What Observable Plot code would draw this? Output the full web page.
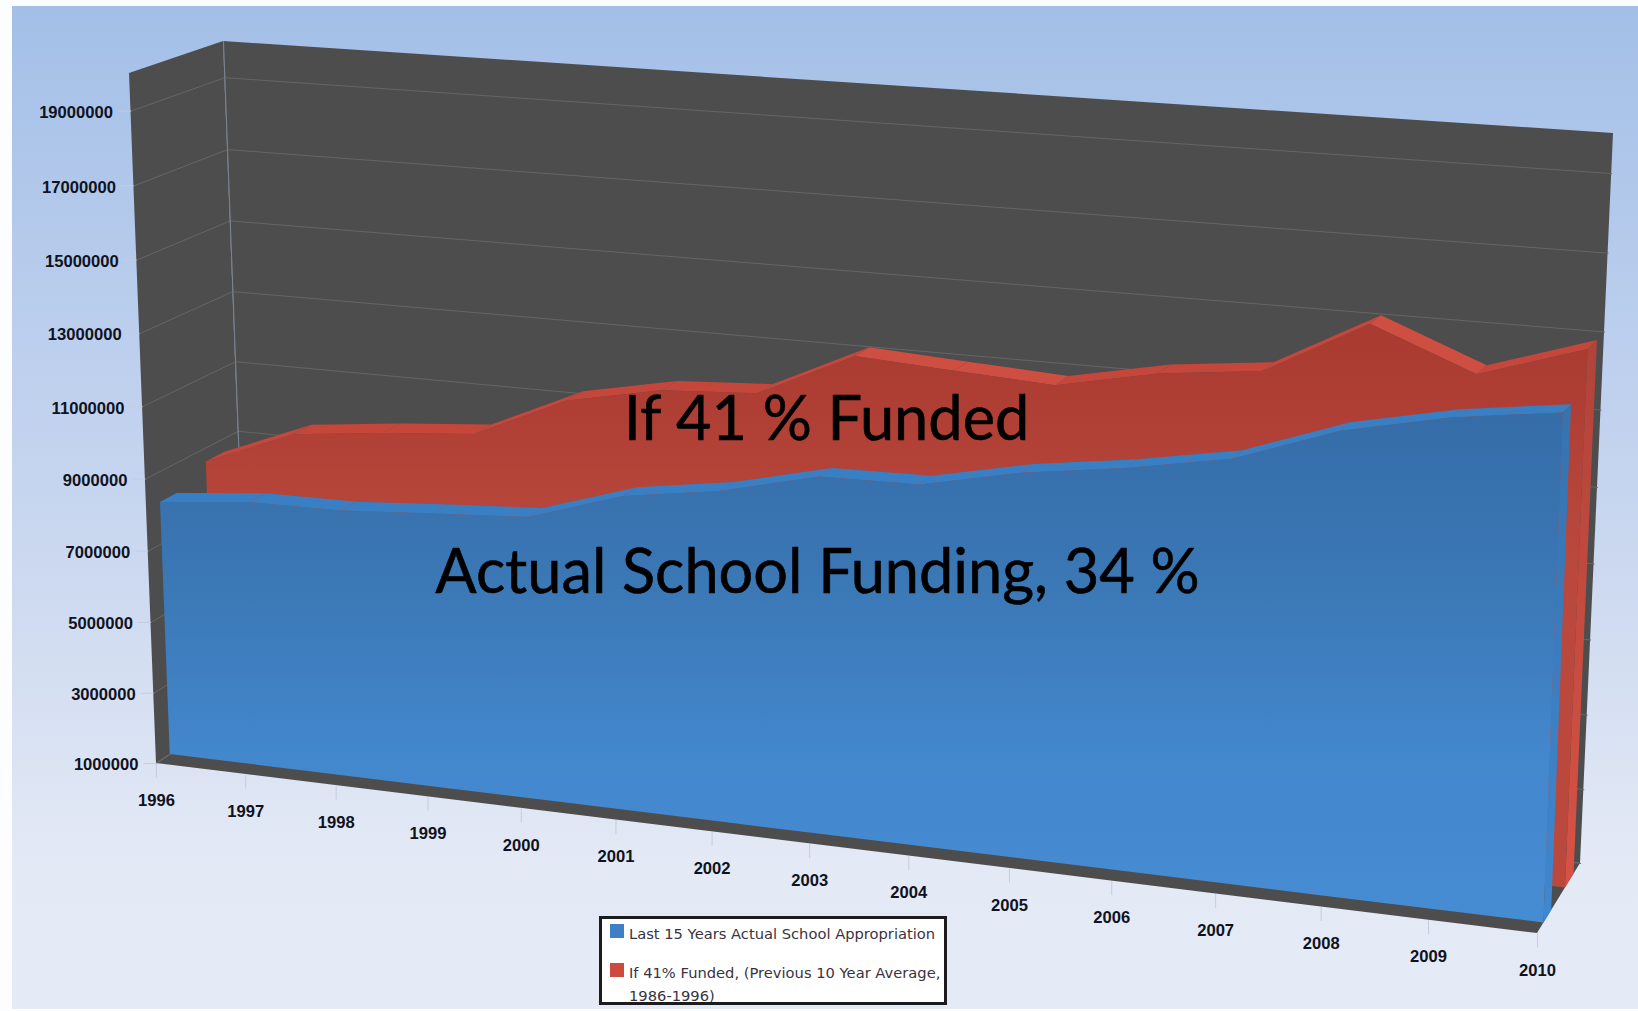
<!DOCTYPE html>
<html>
<head>
<meta charset="utf-8">
<script src="https://cdn.jsdelivr.net/npm/d3@7"></script>
<script src="https://cdn.jsdelivr.net/npm/@observablehq/plot@0.6"></script>
<style>
  html, body { margin: 0; padding: 0; background: #fcfdff; }
  #frame { position: relative; width: 1638px; height: 1011px; overflow: hidden; }
  #frame svg { position: absolute; left: 0; top: 0; background: transparent; }
  #sky { position: absolute; left: 12px; top: 6px; right: 0; bottom: 2px;
         background: linear-gradient(#a3bfe7 0%, #b6cbec 25%, #cbd8f0 55%, #e3e9f5 85%, #e4eaf6 100%); }
  #legend { position: absolute; left: 599px; top: 916px; width: 342px; height: 83px;
            border: 3px solid #1c1c1c; background: #fff; overflow: hidden;
            font: 14.7px "DejaVu Sans", sans-serif; color: #3a3340; }
  #legend .row { position: absolute; left: 8px; white-space: nowrap; }
  #legend .sw { position: absolute; left: 0; top: 2px; width: 14px; height: 14px; }
  #legend .tx { position: absolute; left: 19px; top: 0; line-height: 23px; }
</style>
</head>
<body>
<div id="frame">
  <div id="sky"></div>
  <div id="chart"></div>
  <div id="legend">
    <div class="row" style="top:3px"><span class="sw" style="background:#3f80c4"></span><span class="tx">Last 15 Years Actual School Appropriation</span></div>
    <div class="row" style="top:42px"><span class="sw" style="background:#cc4a40"></span><span class="tx">If 41% Funded, (Previous 10 Year Average,<br>1986-1996)</span></div>
  </div>
</div>
<script>
const years = [1996, 1997, 1998, 1999, 2000, 2001, 2002, 2003, 2004, 2005, 2006, 2007, 2008, 2009, 2010];
const actualFunding = [8150000, 8400000, 8420000, 8600000, 8760000, 9580000, 9970000, 10600000, 10640000, 11200000, 11570000, 12050000, 13000000, 13570000, 13930000];
const fundedAt41 = [8600000, 9620000, 9900000, 10120000, 11280000, 11800000, 11950000, 13180000, 13020000, 12870000, 13410000, 13700000, 15140000, 14080000, 14950000];
const valueTicks = [1000000, 3000000, 5000000, 7000000, 9000000, 11000000, 13000000, 15000000, 17000000, 19000000];
const valueFloor = 1000000;
const valueCeiling = 20000000;

// The box the chart stands in: corners of its front and back planes, on screen.
const frontPlane = [[156, 763], [1537, 933], [1565, 168], [129, 73]];
const backPlane = [[248, 703], [1580, 863], [1613, 133], [223, 41]];

// Depth slabs of the two series, 0 at the front of the box and 1 at its back wall.
const blueDepth = [0.15, 0.33];
const redDepth = [0.65, 0.85];

function homography([p0, p1, p2, p3]) {
  const dx1 = p1[0] - p2[0], dx2 = p3[0] - p2[0], sx = p0[0] - p1[0] + p2[0] - p3[0];
  const dy1 = p1[1] - p2[1], dy2 = p3[1] - p2[1], sy = p0[1] - p1[1] + p2[1] - p3[1];
  const den = dx1 * dy2 - dx2 * dy1;
  const g = (sx * dy2 - dx2 * sy) / den, h = (dx1 * sy - sx * dy1) / den;
  const a = p1[0] - p0[0] + g * p1[0], b = p3[0] - p0[0] + h * p3[0];
  const d = p1[1] - p0[1] + g * p1[1], e = p3[1] - p0[1] + h * p3[1];
  return (u, v) => {
    const w = g * u + h * v + 1;
    return [(a * u + b * v + p0[0]) / w, (d * u + e * v + p0[1]) / w];
  };
}

// Maps (year, value, depth) to the page through the box's perspective.
function project(year, value, depth) {
  const corners = frontPlane.map((p, i) => [
    p[0] + (backPlane[i][0] - p[0]) * depth,
    p[1] + (backPlane[i][1] - p[1]) * depth
  ]);
  const u = (year - years[0]) / (years[years.length - 1] - years[0]);
  const v = (value - valueFloor) / (valueCeiling - valueFloor);
  return homography(corners)(u, v);
}
const px = (year, value, depth) => project(year, value, depth)[0];
const py = (year, value, depth) => project(year, value, depth)[1];

const first = years[0], last = years[years.length - 1];
const depthSteps = [0, 1];

function gradients() {
  const svg = d3.create("svg:defs");
  const grad = (id, y1, y2, stops) => {
    const g = svg.append("linearGradient").attr("id", id)
      .attr("gradientUnits", "userSpaceOnUse")
      .attr("x1", 0).attr("x2", 0).attr("y1", y1).attr("y2", y2);
    stops.forEach(([o, c]) => g.append("stop").attr("offset", o).attr("stop-color", c));
  };
  grad("blueFront", 420, 900, [[0, "#356da8"], [0.35, "#3b78b6"], [0.7, "#4387cd"], [1, "#468cd3"]]);
  grad("redFront", 340, 560, [[0, "#aa3b31"], [1, "#ba483d"]]);
  grad("redSide", 340, 890, [[0, "#b0433a"], [1, "#d85244"]]);
  grad("blueSide", 400, 920, [[0, "#3672ae"], [1, "#4087cf"]]);
  return svg.node();
}

// One flat face per series: its top panels, its right-hand side and its front.
function slab(values, depths, frontFill, panelA, panelB, sideFill) {
  const [d0, d1] = depths;
  const rows = years.map((year, i) => ({year, value: values[i]}));
  const panels = d3.pairs(rows).flatMap(([a, b], i) => [
    {year: a.year, value: a.value, seg: i, rising: b.value >= a.value},
    {year: b.year, value: b.value, seg: i, rising: b.value >= a.value}
  ]);
  const end = rows[rows.length - 1];
  return [
    Plot.area(panels.filter((d) => d.rising), {
      x1: (d) => px(d.year, d.value, d0), y1: (d) => py(d.year, d.value, d0),
      x2: (d) => px(d.year, d.value, d1), y2: (d) => py(d.year, d.value, d1),
      z: "seg", fill: panelA
    }),
    Plot.area(panels.filter((d) => !d.rising), {
      x1: (d) => px(d.year, d.value, d0), y1: (d) => py(d.year, d.value, d0),
      x2: (d) => px(d.year, d.value, d1), y2: (d) => py(d.year, d.value, d1),
      z: "seg", fill: panelB
    }),
    Plot.area(depths, {
      x1: (d) => px(end.year, end.value, d), y1: (d) => py(end.year, end.value, d),
      x2: (d) => px(end.year, valueFloor, d), y2: (d) => py(end.year, valueFloor, d),
      fill: sideFill
    }),
    Plot.area(rows, {
      x1: (d) => px(d.year, d.value, d0), y1: (d) => py(d.year, d.value, d0),
      x2: (d) => px(d.year, valueFloor, d0), y2: (d) => py(d.year, valueFloor, d0),
      fill: frontFill
    })
  ];
}

const leftGrid = valueTicks.flatMap((value) => depthSteps.map((depth) => ({value, depth})));
const backGrid = valueTicks.flatMap((value) => [first, last].map((year) => ({value, year})));

const figure = Plot.plot({
  width: 1638,
  height: 1011,
  margin: 0,
  style: {background: "transparent"},
  x: {domain: [0, 1638], range: [0, 1638], axis: null},
  y: {domain: [0, 1011], range: [0, 1011], axis: null},
  marks: [
    gradients,
    // Back wall
    Plot.area([first, last], {
      x1: (y) => px(y, valueCeiling, 1), y1: (y) => py(y, valueCeiling, 1),
      x2: (y) => px(y, valueFloor, 1), y2: (y) => py(y, valueFloor, 1),
      fill: "#4d4d4d"
    }),
    // Left wall
    Plot.area(depthSteps, {
      x1: (d) => px(first, valueCeiling, d), y1: (d) => py(first, valueCeiling, d),
      x2: (d) => px(first, valueFloor, d), y2: (d) => py(first, valueFloor, d),
      fill: "#4d4d4d"
    }),
    // Floor
    Plot.area([first, last], {
      x1: (y) => px(y, valueFloor, 0), y1: (y) => py(y, valueFloor, 0),
      x2: (y) => px(y, valueFloor, 1), y2: (y) => py(y, valueFloor, 1),
      fill: "#4d4d4d"
    }),
    // Gridlines on both walls, and the corner where they meet
    Plot.line(leftGrid, {
      x: (d) => px(first, d.value, d.depth), y: (d) => py(first, d.value, d.depth),
      z: "value", stroke: "#666666", strokeWidth: 1
    }),
    Plot.line(backGrid, {
      x: (d) => px(d.year, d.value, 1), y: (d) => py(d.year, d.value, 1),
      z: "value", stroke: "#666666", strokeWidth: 1
    }),
    Plot.line([valueCeiling, valueFloor], {
      x: (v) => px(first, v, 1), y: (v) => py(first, v, 1),
      stroke: "#7d8794", strokeWidth: 1
    }),
    ...slab(fundedAt41, redDepth, "url(#redFront)", "#c5473c", "#cf4e42", "url(#redSide)"),
    ...slab(actualFunding, blueDepth, "url(#blueFront)", "#397fc4", "#3f88d0", "url(#blueSide)"),
    // Axis ticks
    Plot.link(valueTicks, {
      x1: (v) => px(first, v, 0) - 13, y1: (v) => py(first, v, 0),
      x2: (v) => px(first, v, 0), y2: (v) => py(first, v, 0),
      stroke: "#c4ccdf", strokeWidth: 1
    }),
    Plot.link(years, {
      x1: (y) => px(y, valueFloor, 0), y1: (y) => py(y, valueFloor, 0),
      x2: (y) => px(y, valueFloor, 0), y2: (y) => py(y, valueFloor, 0) + 14,
      stroke: "#c4ccdf", strokeWidth: 1
    }),
    // Axis labels
    Plot.text(valueTicks, {
      x: (v) => px(first, v, 0) - 18, y: (v) => py(first, v, 0) + 1.5,
      text: (v) => String(v), textAnchor: "end",
      fontFamily: "Liberation Sans", fontWeight: "bold", fontSize: 16.6, fill: "#10131f"
    }),
    Plot.text(years, {
      x: (y) => px(y, valueFloor, 0), y: (y) => py(y, valueFloor, 0) + 37,
      text: (y) => String(y),
      fontFamily: "Liberation Sans", fontWeight: "bold", fontSize: 16.6, fill: "#10131f"
    }),
    // Series captions
    Plot.text(["If 41 % Funded"], {
      x: () => 826, y: () => 420, text: (d) => d,
      fontFamily: "Lato", fontSize: 61.3, fill: "#000", stroke: "#000", strokeWidth: 0.6
    }),
    Plot.text(["Actual School Funding, 34 %"], {
      x: () => 817, y: () => 572.5, text: (d) => d,
      fontFamily: "Lato", fontSize: 61.3, fill: "#000", stroke: "#000", strokeWidth: 0.6
    })
  ]
});
document.getElementById("chart").append(figure);
</script>
</body>
</html>
